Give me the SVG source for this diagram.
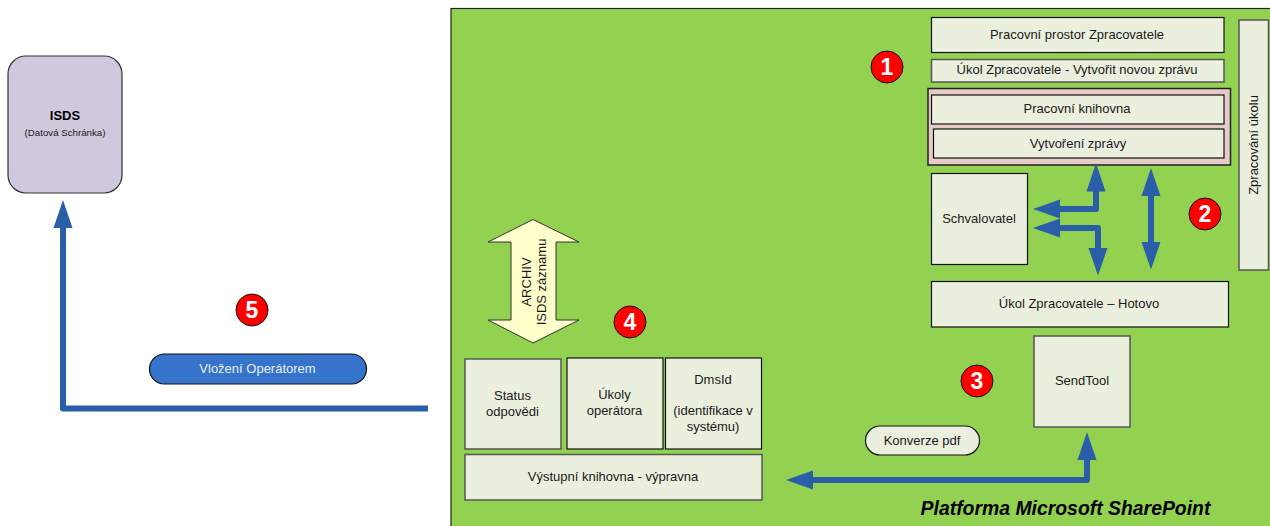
<svg xmlns="http://www.w3.org/2000/svg" width="1270" height="526" viewBox="0 0 1270 526">
<style>
text{font-family:"Liberation Sans",Arial,sans-serif;font-size:13px;fill:#1a1a1a;text-anchor:middle}
.b{fill:#ebefde;stroke:#111;stroke-width:1.200}
.g{fill:#ebefde;stroke:#555;stroke-width:1.500}
.c{fill:#f00;stroke:#111;stroke-width:1}
.n{font-size:23px;font-weight:bold;fill:#fff}
.s{fill:none;stroke:#2a5ea8;stroke-width:6;stroke-linejoin:round}
.h{fill:#2a5ea8}
</style>
<rect id="platform" x="451" y="8.500" width="830" height="530" fill="#92d250" stroke="#222" stroke-width="1.200"/>
<text x="1065.500" y="515" style="font-size:19.400px;font-weight:bold;font-style:italic;fill:#000">Platforma Microsoft SharePoint</text>

<g id="isds"><rect x="8" y="56" width="114" height="137" rx="18" fill="#d0c8dc" stroke="#333" stroke-width="1.200"/><text x="65" y="120" style="font-weight:bold;fill:#000">ISDS</text><text x="65" y="136" style="font-size:9.700px">(Datová Schránka)</text></g>
<g id="workspace"><rect class="b" x="931.500" y="17.500" width="292.500" height="35"/><text x="1077" y="39">Pracovní prostor Zpracovatele</text></g>
<g id="task-new"><rect class="g" x="931.500" y="59.500" width="292.500" height="22.500"/><text x="1077" y="74">Úkol Zpracovatele - Vytvořit novou zprávu</text></g>
<g id="library-group"><rect x="928" y="88.500" width="302.500" height="76.500" fill="#e6cbc9" stroke="#222" stroke-width="1.500"/></g>
<g id="library"><rect class="b" x="931.500" y="95" width="292.500" height="29"/><text x="1077" y="113">Pracovní knihovna</text></g>
<g id="create"><rect class="b" x="933.500" y="129" width="290.500" height="29"/><text x="1078" y="148">Vytvoření zprávy</text></g>
<g id="processing"><rect class="g" x="1239" y="20" width="29.500" height="250"/><text transform="translate(1258 145) rotate(-90)">Zpracování úkolu</text></g>
<g id="approver"><rect class="b" x="931.500" y="173.500" width="96" height="91"/><text x="979" y="223">Schvalovatel</text></g>
<g id="task-done"><rect class="b" x="931.500" y="281.500" width="297" height="45.500"/><text x="1079" y="308">Úkol Zpracovatele – Hotovo</text></g>
<g id="sendtool"><rect class="g" x="1034" y="336" width="96" height="91"/><text x="1082" y="385">SendTool</text></g>
<g id="conversion"><rect x="865.500" y="426" width="114" height="29" rx="14.500" fill="#ebefde" stroke="#111" stroke-width="1.200"/><text x="922" y="445">Konverze pdf</text></g>
<g id="archive"><path d="M533 219.500L579 242H556V320H579L533 343L488 320H511V242H488Z" fill="#ffc" stroke="#333" stroke-width="1"/><text transform="translate(531 282) rotate(-90)"><tspan x="0" y="0">ARCHIV</tspan><tspan x="0" y="15">ISDS záznamu</tspan></text></g>
<g id="status"><rect class="g" x="465" y="359" width="96" height="90"/><text x="512.500" y="400">Status</text><text x="512.500" y="416">odpovědi</text></g>
<g id="operator-tasks"><rect class="b" x="567" y="358" width="96" height="91"/><text x="614.500" y="399">Úkoly</text><text x="614.500" y="415">operátora</text></g>
<g id="dmsid"><rect class="b" x="665.500" y="358" width="96" height="91"/><text x="713" y="384">DmsId</text><text x="713" y="415">(identifikace v</text><text x="713" y="431">systému)</text></g>
<g id="output"><rect class="g" x="465" y="454.500" width="297" height="45.500"/><text x="613" y="481">Výstupní knihovna - výpravna</text></g>
<g id="operator"><rect x="149.500" y="354" width="217" height="30" rx="15" fill="#3674cc" stroke="#111" stroke-width="1.200"/><text x="257.500" y="373" style="fill:#e8eef8">Vložení Operátorem</text></g>
<g id="badge1"><circle class="c" cx="887" cy="67" r="16"/><text class="n" x="887" y="75">1</text></g>
<g id="badge2"><circle class="c" cx="1205" cy="214" r="16"/><text class="n" x="1205" y="222">2</text></g>
<g id="badge3"><circle class="c" cx="977" cy="381" r="16"/><text class="n" x="977" y="389">3</text></g>
<g id="badge4"><circle class="c" cx="630" cy="322" r="16"/><text class="n" x="630" y="330">4</text></g>
<g id="badge5"><circle class="c" cx="252" cy="310" r="16"/><text class="n" x="252" y="318">5</text></g>

<g id="connectors">
<path class="s" d="M428 408.500H63V225"/><path class="h" d="M63 200L72.500 228H53.500Z"/>
<path class="s" d="M1058 209H1096V188"/><path class="h" d="M1033 209L1060 199.500V218.500Z"/><path class="h" d="M1096 163L1105.500 191.500H1086.500Z"/>
<path class="s" d="M1058 228H1098V250"/><path class="h" d="M1033 228L1060 218.500V237.500Z"/><path class="h" d="M1098 275.500L1107.500 248H1088.500Z"/>
<path class="s" d="M1151 194V244"/><path class="h" d="M1151 168L1160.500 196H1141.500Z"/><path class="h" d="M1151 269.500L1160.500 242H1141.500Z"/>
<path class="s" d="M811 480H1087V458"/><path class="h" d="M786 480L813 470.500V489.500Z"/><path class="h" d="M1087 432L1096.500 460H1077.500Z"/>
</g>
</svg>
